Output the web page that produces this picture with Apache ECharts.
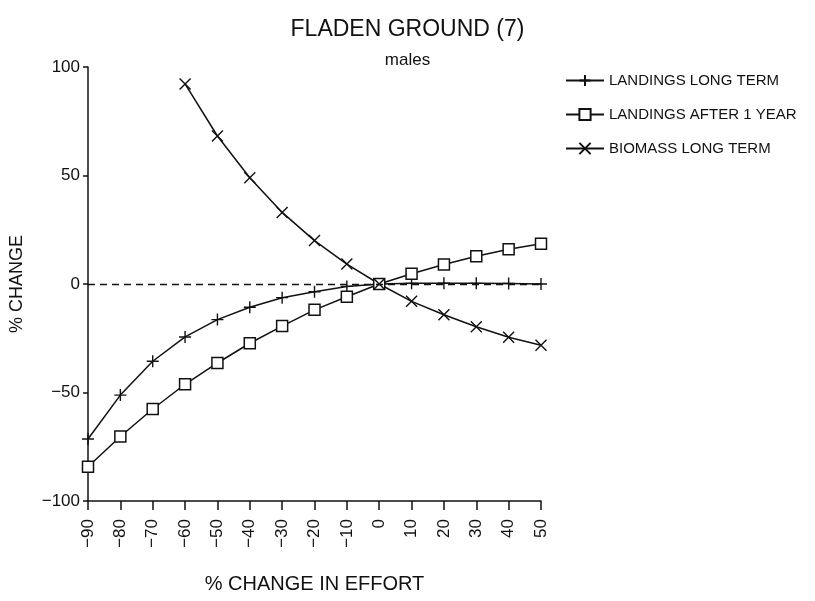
<!DOCTYPE html>
<html>
<head>
<meta charset="utf-8">
<script src="https://cdn.jsdelivr.net/npm/echarts@6/dist/echarts.min.js"></script>
<style>
html,body{margin:0;padding:0;background:#fff;}
#chart{width:815px;height:601px;}
</style>
</head>
<body>
<div id="chart"></div>
<script>
// % change in effort (x)
var effort = [-90, -80, -70, -60, -50, -40, -30, -20, -10, 0, 10, 20, 30, 40, 50];
// % change values
var landingsLongTerm = [-71.4, -51.2, -35.6, -24.4, -16.4, -10.7, -6.3, -3.6, -1.1, 0, 0.3, 0.4, 0.3, 0.2, 0];
var landingsAfter1Year = [-84.2, -70.3, -57.6, -46.2, -36.4, -27.3, -19.4, -11.9, -5.9, 0, 4.7, 9.0, 12.8, 16.0, 18.6];
var biomassLongTerm = [null, null, null, 92.2, 68.2, 49.0, 33.0, 20.0, 9.2, 0, -8.0, -14.2, -19.7, -24.5, -28.2];
var xTicks = {min: -90, max: 50, interval: 10};
var yTicks = {min: -100, max: 100, interval: 50};

function pairs(vals) {
  var out = [];
  for (var i = 0; i < effort.length; i++) {
    if (vals[i] !== null) out.push([effort[i], vals[i]]);
  }
  return out;
}
function minus(v) { return String(v).replace('-', '\u2212'); }

var FONT = 'Liberation Sans';
var INK = '#111';

var chart = echarts.init(document.getElementById('chart'), null, {renderer: 'canvas'});
chart.setOption({
  backgroundColor: '#fff',
  animation: false,
  title: [
    {text: 'FLADEN GROUND (7)', left: 'center', top: 13,
     textStyle: {fontFamily: FONT, fontSize: 23, fontWeight: 'normal', color: INK}},
    {text: 'males', left: 'center', top: 47,
     textStyle: {fontFamily: FONT, fontSize: 17, fontWeight: 'normal', color: INK}}
  ],
  legend: {
    orient: 'vertical', left: 560, top: 68,
    itemWidth: 38, itemHeight: 14, itemGap: 19,
    textStyle: {fontFamily: FONT, fontSize: 15, color: INK},
    data: ['LANDINGS LONG TERM', 'LANDINGS AFTER 1 YEAR', 'BIOMASS LONG TERM']
  },
  grid: {left: 88, right: 274, top: 67, bottom: 100, containLabel: false, outerBoundsMode: 'none'},
  xAxis: {
    type: 'value', min: xTicks.min, max: xTicks.max, interval: xTicks.interval,
    name: '% CHANGE IN EFFORT', nameLocation: 'middle', nameGap: 73,
    nameTextStyle: {fontFamily: FONT, fontSize: 20, color: INK},
    axisLine: {onZero: false, lineStyle: {color: INK, width: 1.5}},
    axisTick: {show: true, length: 9, inside: false, lineStyle: {color: INK, width: 1.5}},
    axisLabel: {rotate: 90, margin: 18, fontFamily: FONT, fontSize: 17, color: INK,
                formatter: function (v) { return minus(v); }},
    splitLine: {show: false}
  },
  yAxis: {
    type: 'value', min: yTicks.min, max: yTicks.max, interval: yTicks.interval,
    name: '% CHANGE', nameLocation: 'middle', nameGap: 62,
    nameTextStyle: {fontFamily: FONT, fontSize: 18, color: INK},
    axisLine: {show: true, onZero: false, lineStyle: {color: INK, width: 1.5}},
    axisTick: {show: true, length: 5, lineStyle: {color: INK, width: 1.5}},
    axisLabel: {margin: 8, fontFamily: FONT, fontSize: 17, color: INK,
                formatter: function (v) { return minus(v); }},
    splitLine: {show: false}
  },
  series: [
    {
      name: 'LANDINGS LONG TERM', type: 'line', data: pairs(landingsLongTerm),
      symbol: 'path://M0,6L12,6M6,0L6,12', symbolSize: 12, showAllSymbol: true,
      lineStyle: {color: INK, width: 1.5},
      itemStyle: {color: INK, borderColor: INK, borderWidth: 1.4},
      markLine: {
        silent: true, symbol: ['none', 'none'], label: {show: false},
        lineStyle: {color: INK, type: [7, 5], width: 1.3},
        data: [{yAxis: 0}]
      }
    },
    {
      name: 'LANDINGS AFTER 1 YEAR', type: 'line', data: pairs(landingsAfter1Year),
      symbol: 'rect', symbolSize: 11, showAllSymbol: true,
      lineStyle: {color: INK, width: 1.5},
      itemStyle: {color: '#fff', borderColor: INK, borderWidth: 1.5}
    },
    {
      name: 'BIOMASS LONG TERM', type: 'line', data: pairs(biomassLongTerm),
      symbol: 'path://M0,0L12,12M12,0L0,12', symbolSize: 11, showAllSymbol: true,
      lineStyle: {color: INK, width: 1.5},
      itemStyle: {color: INK, borderColor: INK, borderWidth: 1.4}
    }
  ]
});
</script>
</body>
</html>
